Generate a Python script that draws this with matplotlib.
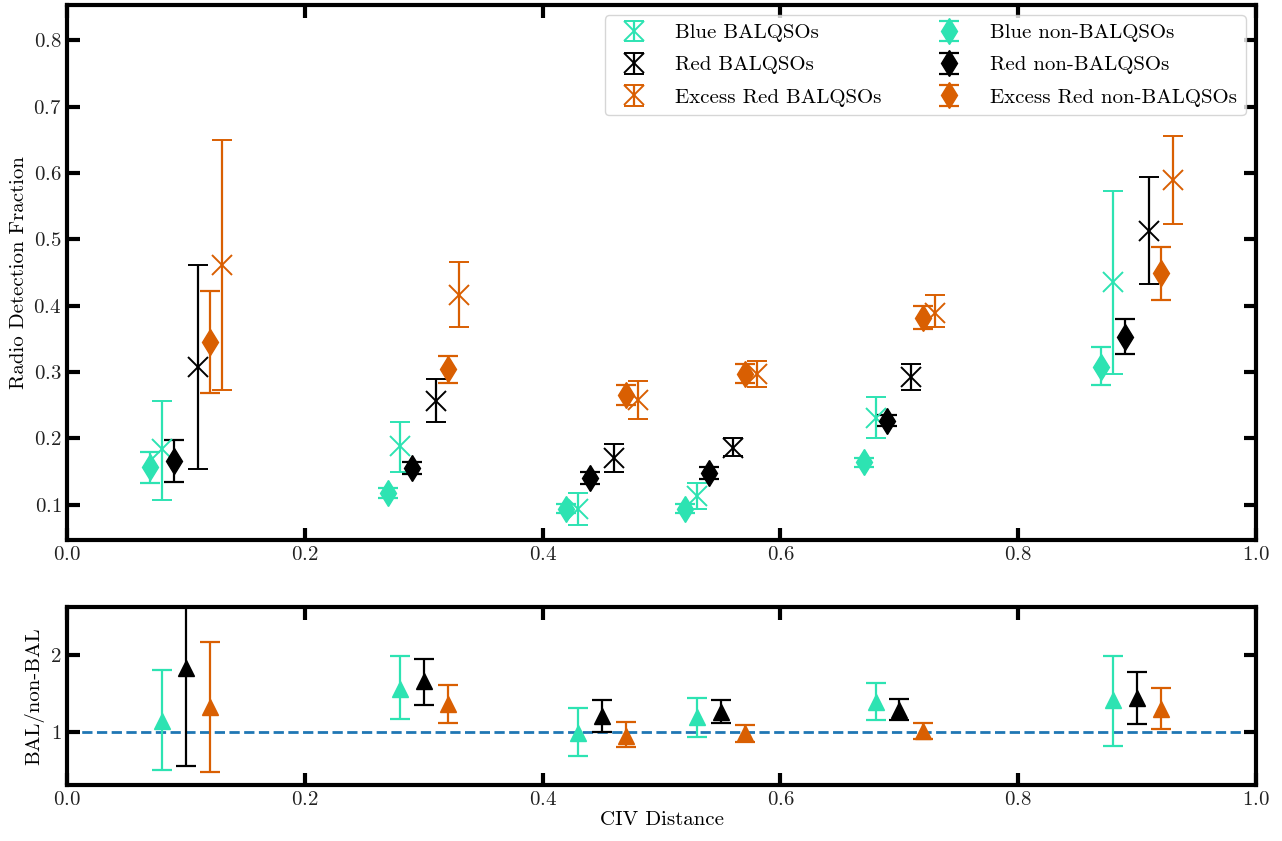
import numpy as np
import matplotlib
matplotlib.use("Agg")
import matplotlib.pyplot as plt

plt.rcParams['font.family'] = ['cmr10', 'DejaVu Serif']
plt.rcParams['mathtext.fontset'] = 'cm'
plt.rcParams['axes.formatter.use_mathtext'] = True

TEAL = '#2de3b2'
BLACK = 'black'
ORANGE = '#d95f02'

# radio detection fractions: value, lower error bound, upper error bound
x_blue_non = [0.07, 0.27, 0.42, 0.52, 0.67, 0.87]
y_blue_non = [0.157, 0.118, 0.094, 0.094, 0.164, 0.308]
lo_blue_non = [0.133, 0.110, 0.087, 0.087, 0.157, 0.280]
hi_blue_non = [0.180, 0.126, 0.101, 0.101, 0.171, 0.337]

x_blue_bal = [0.08, 0.28, 0.43, 0.53, 0.68, 0.88]
y_blue_bal = [0.184, 0.188, 0.094, 0.113, 0.231, 0.435]
lo_blue_bal = [0.108, 0.149, 0.069, 0.093, 0.201, 0.297]
hi_blue_bal = [0.256, 0.225, 0.118, 0.133, 0.262, 0.573]

x_red_non = [0.09, 0.29, 0.44, 0.54, 0.69, 0.89]
y_red_non = [0.166, 0.155, 0.140, 0.148, 0.227, 0.353]
lo_red_non = [0.134, 0.146, 0.131, 0.139, 0.218, 0.327]
hi_red_non = [0.198, 0.164, 0.149, 0.157, 0.236, 0.380]

x_red_bal = [0.11, 0.31, 0.46, 0.56, 0.71, 0.91]
y_red_bal = [0.307, 0.257, 0.171, 0.186, 0.292, 0.512]
lo_red_bal = [0.154, 0.225, 0.150, 0.173, 0.273, 0.432]
hi_red_bal = [0.462, 0.289, 0.191, 0.201, 0.312, 0.594]

x_exc_non = [0.12, 0.32, 0.47, 0.57, 0.72, 0.92]
y_exc_non = [0.345, 0.304, 0.266, 0.297, 0.382, 0.449]
lo_exc_non = [0.268, 0.284, 0.251, 0.283, 0.365, 0.409]
hi_exc_non = [0.422, 0.324, 0.281, 0.312, 0.399, 0.488]

x_exc_bal = [0.13, 0.33, 0.48, 0.58, 0.73, 0.93]
y_exc_bal = [0.461, 0.416, 0.258, 0.297, 0.389, 0.589]
lo_exc_bal = [0.273, 0.368, 0.229, 0.277, 0.368, 0.523]
hi_exc_bal = [0.650, 0.466, 0.287, 0.316, 0.416, 0.656]

# BAL / non-BAL ratios
x_ratio_blue = [0.08, 0.28, 0.43, 0.53, 0.68, 0.88]
r_blue = [1.14, 1.56, 0.98, 1.19, 1.39, 1.41]
lo_r_blue = [0.50, 1.17, 0.68, 0.93, 1.16, 0.82]
hi_r_blue = [1.80, 1.98, 1.31, 1.44, 1.64, 1.98]

x_ratio_red = [0.10, 0.30, 0.45, 0.55, 0.70, 0.90]
r_red = [1.83, 1.66, 1.20, 1.26, 1.28, 1.44]
lo_r_red = [0.56, 1.35, 1.00, 1.12, 1.15, 1.10]
hi_r_red = [3.10, 1.94, 1.41, 1.41, 1.42, 1.78]

x_ratio_exc = [0.12, 0.32, 0.47, 0.57, 0.72, 0.92]
r_exc = [1.32, 1.36, 0.95, 0.98, 1.01, 1.30]
lo_r_exc = [0.48, 1.11, 0.80, 0.87, 0.91, 1.04]
hi_r_exc = [2.17, 1.61, 1.13, 1.09, 1.12, 1.57]

FS = 15


def yerr(y, lo, hi):
    y = np.asarray(y)
    return [y - np.asarray(lo), np.asarray(hi) - y]


def style_axis(ax):
    for sp in ax.spines.values():
        sp.set_linewidth(3)
    ax.tick_params(which='major', direction='in', length=9, width=3,
                   top=True, right=True, labelsize=FS, labelcolor='#222222',
                   pad=4)


fig = plt.figure(figsize=(12.82, 8.41), dpi=100)
ax1 = fig.add_axes([0.0523, 0.3579, 0.9274, 0.6362])
ax2 = fig.add_axes([0.0523, 0.0666, 0.9274, 0.2116])

ebkw = dict(ls='none', capsize=7, elinewidth=1.6, capthick=1.6)

ax1.errorbar(x_blue_bal, y_blue_bal, yerr=yerr(y_blue_bal, lo_blue_bal, hi_blue_bal),
             marker='x', ms=14, mew=1.4, color=TEAL, label='Blue BALQSOs', **ebkw)
ax1.errorbar(x_red_bal, y_red_bal, yerr=yerr(y_red_bal, lo_red_bal, hi_red_bal),
             marker='x', ms=14, mew=1.4, color=BLACK, label='Red BALQSOs', **ebkw)
ax1.errorbar(x_exc_bal, y_exc_bal, yerr=yerr(y_exc_bal, lo_exc_bal, hi_exc_bal),
             marker='x', ms=14, mew=1.4, color=ORANGE, label='Excess Red BALQSOs', **ebkw)
ax1.errorbar(x_blue_non, y_blue_non, yerr=yerr(y_blue_non, lo_blue_non, hi_blue_non),
             marker='d', ms=13, color=TEAL, label='Blue non-BALQSOs', **ebkw)
ax1.errorbar(x_red_non, y_red_non, yerr=yerr(y_red_non, lo_red_non, hi_red_non),
             marker='d', ms=13, color=BLACK, label='Red non-BALQSOs', **ebkw)
ax1.errorbar(x_exc_non, y_exc_non, yerr=yerr(y_exc_non, lo_exc_non, hi_exc_non),
             marker='d', ms=13, color=ORANGE, label='Excess Red non-BALQSOs', **ebkw)

ax1.set_xlim(0, 1)
ax1.set_ylim(0.047, 0.853)
ax1.set_xticks(np.arange(0, 1.01, 0.2))
ax1.set_yticks(np.arange(0.1, 0.81, 0.1))
ax1.set_ylabel('Radio Detection Fraction', fontsize=FS)
leg = ax1.legend(ncol=2, loc='upper right', fontsize=FS, frameon=True,
                 fancybox=True, edgecolor='#cccccc', columnspacing=2.2,
                 handletextpad=1.0, borderaxespad=0.5, labelspacing=0.65)
style_axis(ax1)

ax2.axhline(1, color='#1f77b4', ls='--', lw=2, zorder=1)
ax2.errorbar(x_ratio_blue, r_blue, yerr=yerr(r_blue, lo_r_blue, hi_r_blue),
             marker='^', ms=12, color=TEAL, **ebkw)
ax2.errorbar(x_ratio_red, r_red, yerr=yerr(r_red, lo_r_red, hi_r_red),
             marker='^', ms=12, color=BLACK, **ebkw)
ax2.errorbar(x_ratio_exc, r_exc, yerr=yerr(r_exc, lo_r_exc, hi_r_exc),
             marker='^', ms=12, color=ORANGE, **ebkw)
ax2.set_xlim(0, 1)
ax2.set_ylim(0.31, 2.62)
ax2.set_xticks(np.arange(0, 1.01, 0.2))
ax2.set_yticks([1, 2])
ax2.set_ylabel('BAL/non-BAL', fontsize=FS)
ax2.set_xlabel('CIV Distance', fontsize=FS, labelpad=2)
style_axis(ax2)

fig.savefig('out.png', dpi=100)
